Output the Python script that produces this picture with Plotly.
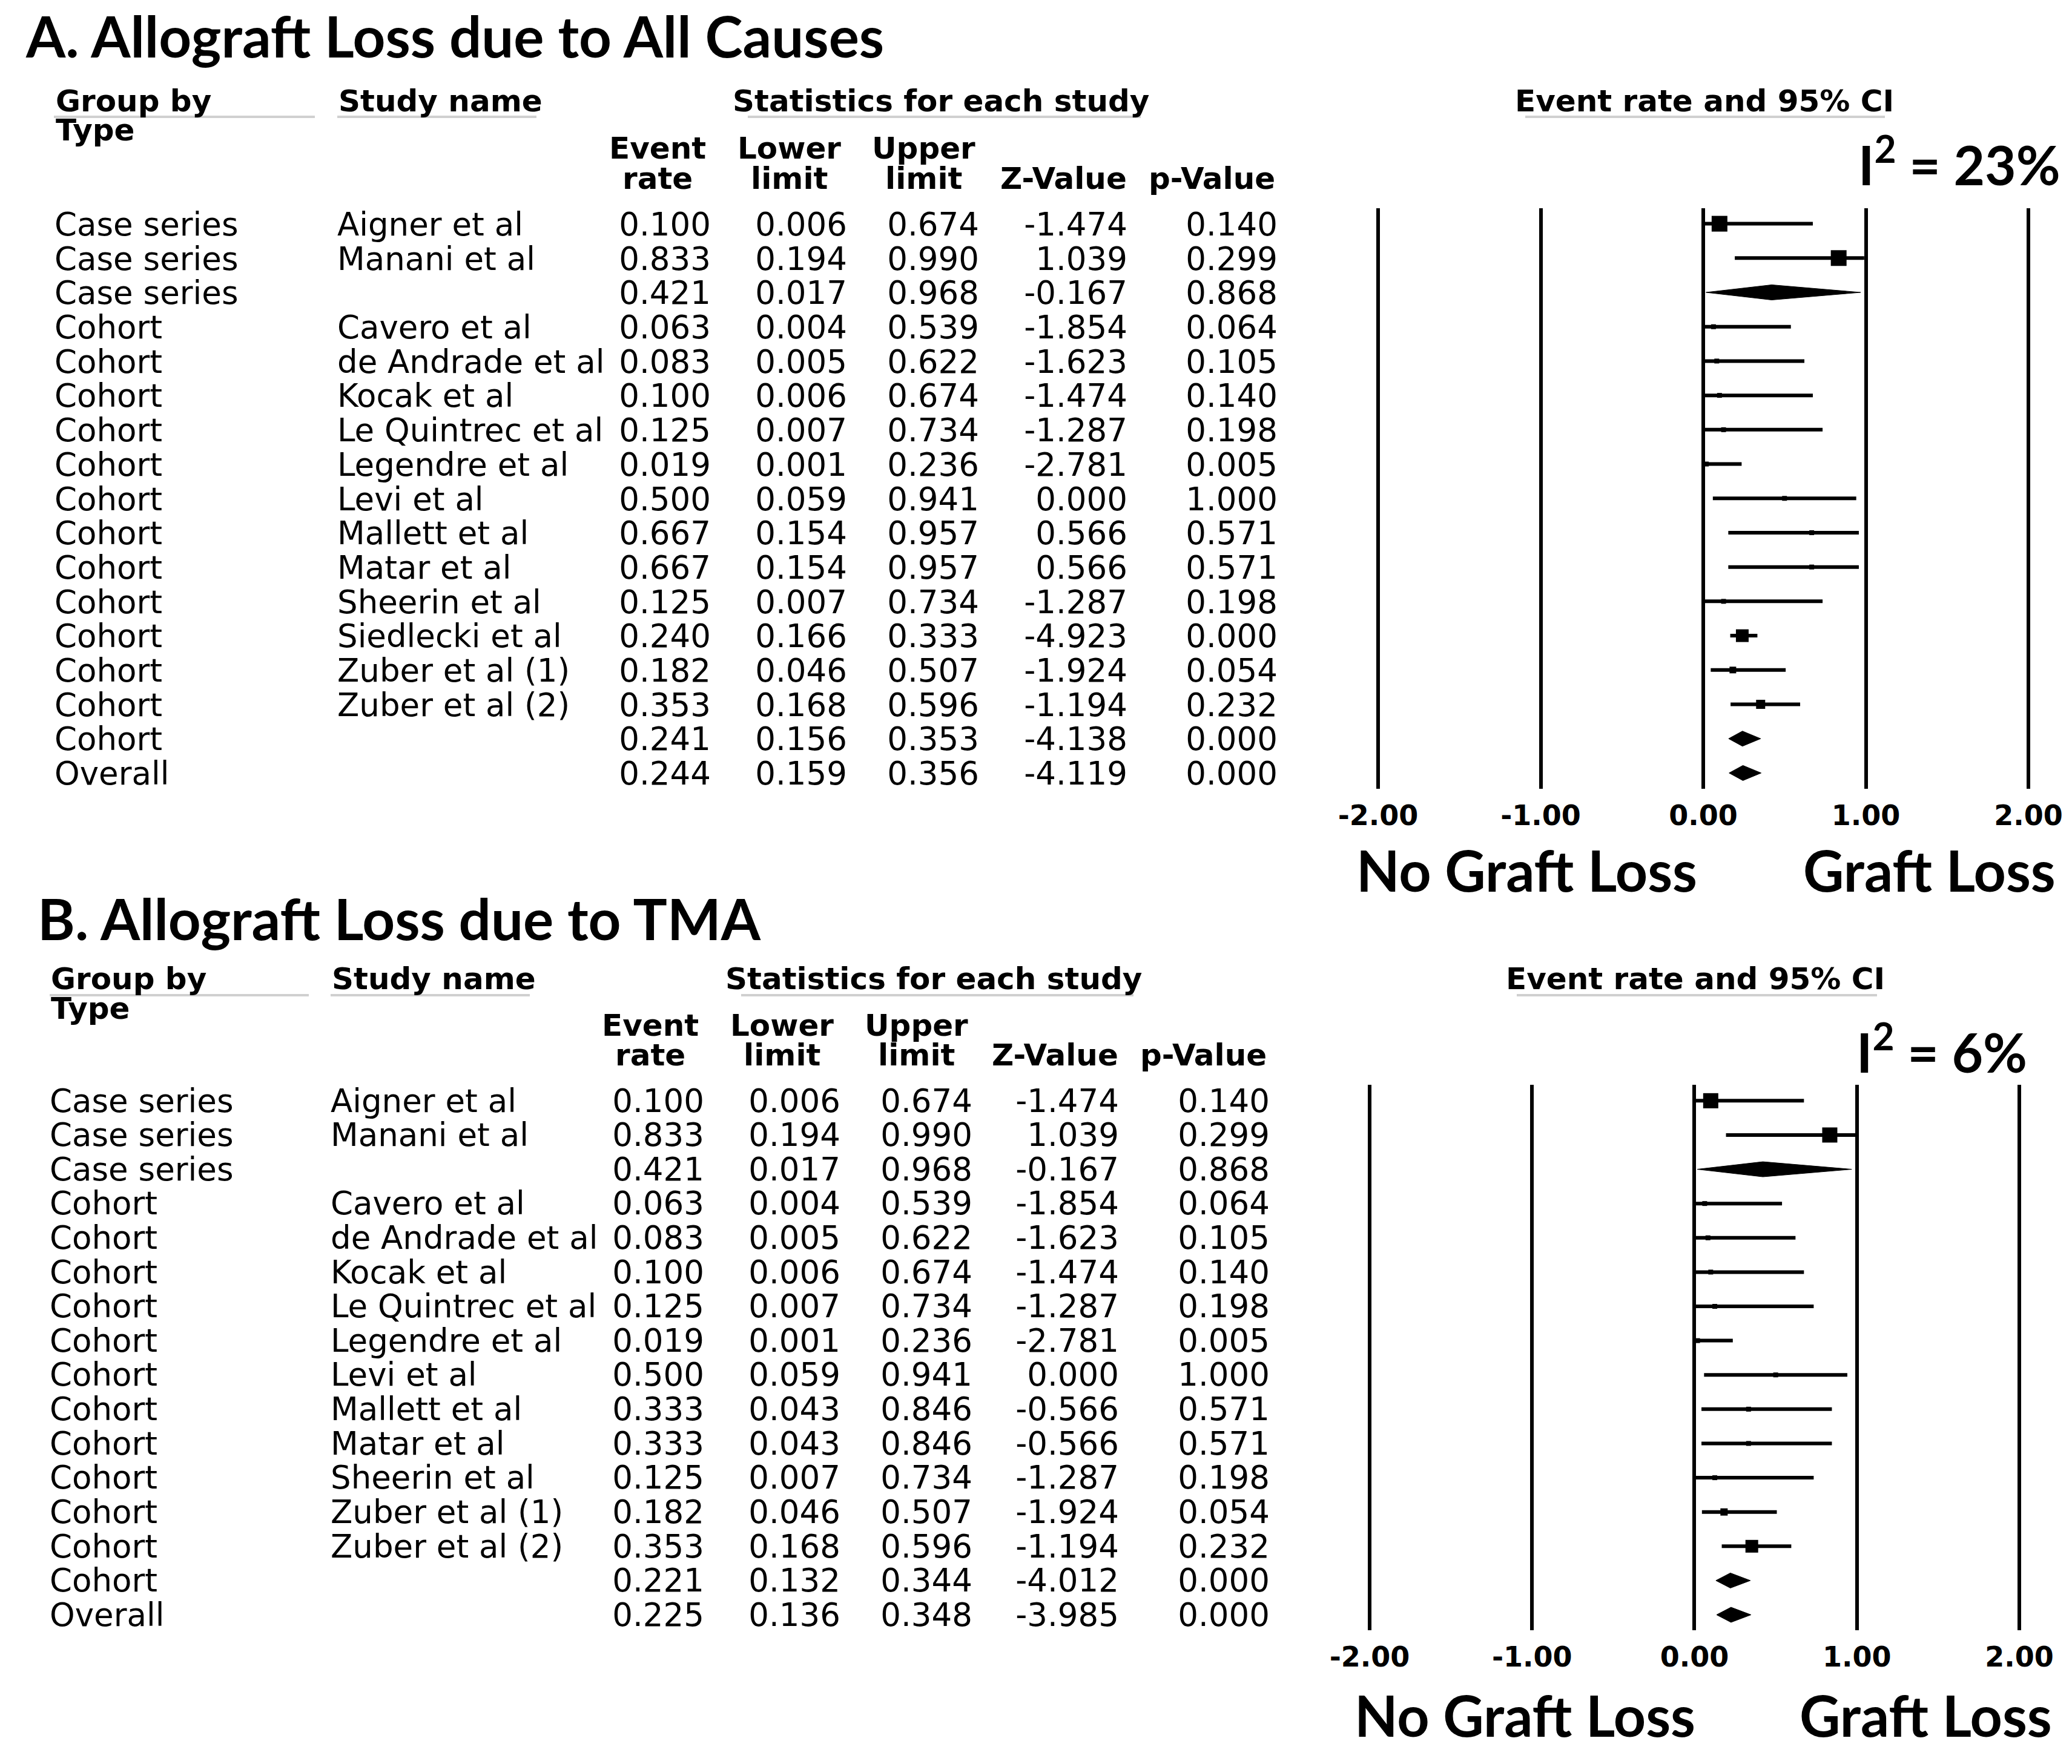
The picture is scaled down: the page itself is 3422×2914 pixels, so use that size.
import plotly.graph_objects as go

W, H = 3422, 2914

# ---------------- data : panel A (all causes) ----------------
groups_a = ["Case series"] * 3 + ["Cohort"] * 13 + ["Overall"]
studies_a = ["Aigner et al", "Manani et al", "", "Cavero et al", "de Andrade et al",
             "Kocak et al", "Le Quintrec et al", "Legendre et al", "Levi et al",
             "Mallett et al", "Matar et al", "Sheerin et al", "Siedlecki et al",
             "Zuber et al (1)", "Zuber et al (2)", "", ""]
rate_a = [0.100, 0.833, 0.421, 0.063, 0.083, 0.100, 0.125, 0.019, 0.500, 0.667,
          0.667, 0.125, 0.240, 0.182, 0.353, 0.241, 0.244]
lower_a = [0.006, 0.194, 0.017, 0.004, 0.005, 0.006, 0.007, 0.001, 0.059, 0.154,
           0.154, 0.007, 0.166, 0.046, 0.168, 0.156, 0.159]
upper_a = [0.674, 0.990, 0.968, 0.539, 0.622, 0.674, 0.734, 0.236, 0.941, 0.957,
           0.957, 0.734, 0.333, 0.507, 0.596, 0.353, 0.356]
z_a = [-1.474, 1.039, -0.167, -1.854, -1.623, -1.474, -1.287, -2.781, 0.000, 0.566,
       0.566, -1.287, -4.923, -1.924, -1.194, -4.138, -4.119]
p_a = [0.140, 0.299, 0.868, 0.064, 0.105, 0.140, 0.198, 0.005, 1.000, 0.571,
       0.571, 0.198, 0.000, 0.054, 0.232, 0.000, 0.000]
i2_a = "23%"

# ---------------- data : panel B (TMA) ----------------
groups_b = ["Case series"] * 3 + ["Cohort"] * 12 + ["Overall"]
studies_b = ["Aigner et al", "Manani et al", "", "Cavero et al", "de Andrade et al",
             "Kocak et al", "Le Quintrec et al", "Legendre et al", "Levi et al",
             "Mallett et al", "Matar et al", "Sheerin et al",
             "Zuber et al (1)", "Zuber et al (2)", "", ""]
rate_b = [0.100, 0.833, 0.421, 0.063, 0.083, 0.100, 0.125, 0.019, 0.500, 0.333,
          0.333, 0.125, 0.182, 0.353, 0.221, 0.225]
lower_b = [0.006, 0.194, 0.017, 0.004, 0.005, 0.006, 0.007, 0.001, 0.059, 0.043,
           0.043, 0.007, 0.046, 0.168, 0.132, 0.136]
upper_b = [0.674, 0.990, 0.968, 0.539, 0.622, 0.674, 0.734, 0.236, 0.941, 0.846,
           0.846, 0.734, 0.507, 0.596, 0.344, 0.348]
z_b = [-1.474, 1.039, -0.167, -1.854, -1.623, -1.474, -1.287, -2.781, 0.000, -0.566,
       -0.566, -1.287, -1.924, -1.194, -4.012, -3.985]
p_b = [0.140, 0.299, 0.868, 0.064, 0.105, 0.140, 0.198, 0.005, 1.000, 0.571,
       0.571, 0.198, 0.054, 0.232, 0.000, 0.000]
i2_b = "6%"

axis_ticks = [-2, -1, 0, 1, 2]

# ---------------- style ----------------
sizes_a = [26, 26, 0, 8, 8, 8, 8, 8, 8, 8, 8, 8, 21, 11, 15, 0, 0]
sizes_b = [25, 25, 0, 8, 8, 8, 8, 8, 8, 8, 8, 8, 12, 21, 0, 0]
DIAMOND_HALF = 0.22
DATA_FONT = dict(family="DejaVu Sans", size=53, color="black")
HEAD_FONT = dict(family="DejaVu Sans", size=50, color="black", weight="bold")
TICK_FONT = dict(family="DejaVu Sans", size=46, color="black", weight="bold")
BIG_FONT = dict(family="Lato", size=93, color="black", weight="bold")
I2_FONT = dict(family="Lato", size=89, color="black", weight="bold")
TITLE_FONT = dict(family="Lato", size=94, color="black", weight="bold")
LINE_W = 6
GRID_W = 6
UNDER_COLOR = "#d0d0d0"

fig = go.Figure()


def px(x):
    return x / W


def py(y):
    return 1 - y / H


def panel(k, groups, studies, rate, lower, upper, zval, pval, sizes, i2, L):
    xf, xt = ("x", "x2") if k == 0 else ("x3", "x4")
    yf, yt = ("y", "y3") if k == 0 else ("y2", "y4")
    n = len(rate)
    rows = list(range(1, n + 1))
    is_sum = [s == "" for s in studies]

    # ---- table columns as text traces ----
    named = [i for i in range(n) if studies[i]]
    cols = [
        (L["group_x"], rows, groups, "middle right"),
        (L["study_x"], [rows[i] for i in named], [studies[i] for i in named],
         "middle right"),
        (L["num_x"][0], rows, [f"{v:.3f}" for v in rate], "middle left"),
        (L["num_x"][1], rows, [f"{v:.3f}" for v in lower], "middle left"),
        (L["num_x"][2], rows, [f"{v:.3f}" for v in upper], "middle left"),
        (L["num_x"][3], rows, [f"{v:.3f}" for v in zval], "middle left"),
        (L["num_x"][4], rows, [f"{v:.3f}" for v in pval], "middle left"),
    ]
    for cx, ry, txt, pos in cols:
        fig.add_trace(go.Scatter(
            x=[cx] * len(ry), y=ry, text=txt, mode="text", textposition=pos,
            textfont=DATA_FONT, xaxis=xt, yaxis=yt, showlegend=False,
            hoverinfo="skip", cliponaxis=False))

    # ---- study CIs and squares ----
    si = [i for i in range(n) if not is_sum[i]]
    fig.add_trace(go.Scatter(
        x=[rate[i] for i in si], y=[rows[i] for i in si], mode="markers",
        marker=dict(symbol="square", size=[sizes[i] for i in si], color="black",
                    opacity=1, line=dict(width=0)),
        error_x=dict(type="data", symmetric=False,
                     array=[upper[i] - rate[i] for i in si],
                     arrayminus=[rate[i] - lower[i] for i in si],
                     thickness=LINE_W, width=0, color="black"),
        xaxis=xf, yaxis=yf, showlegend=False, hoverinfo="skip", cliponaxis=False))

    # ---- summary diamonds ----
    dx, dy = [], []
    for i in range(n):
        if is_sum[i]:
            r = rows[i]
            dx += [lower[i], rate[i], upper[i], rate[i], lower[i], None]
            dy += [r, r - DIAMOND_HALF, r, r + DIAMOND_HALF, r, None]
    fig.add_trace(go.Scatter(
        x=dx, y=dy, mode="lines", fill="toself", fillcolor="black",
        line=dict(color="black", width=1), xaxis=xf, yaxis=yf,
        showlegend=False, hoverinfo="skip"))

    # ---- axes ----
    unit = (L["x_p2"] - L["x_m2"]) / 4.0
    pad = 0.06
    fdom = [px(L["x_m2"] - pad * unit), px(L["x_p2"] + pad * unit)]
    ydom = [py(L["y_bot"]), py(L["y_top"])]
    tdom = [py(L["y_bot"] + L["text_dy"]), py(L["y_top"] + L["text_dy"])]
    yrange = [L["yr_bot"], L["yr_top"]]
    names = ("xaxis", "xaxis2", "yaxis", "yaxis3") if k == 0 else \
            ("xaxis3", "xaxis4", "yaxis2", "yaxis4")
    fig.update_layout(**{
        names[0]: dict(domain=fdom, range=[-2 - pad, 2 + pad], anchor=yf,
                       tickvals=axis_ticks,
                       ticktext=[f"{v:.2f}" for v in axis_ticks],
                       showgrid=True, gridcolor="black", gridwidth=GRID_W,
                       zeroline=False, showline=False, ticks="",
                       tickfont=TICK_FONT, ticklabelstandoff=L["tick_standoff"],
                       automargin=False, fixedrange=True),
        names[1]: dict(domain=[0, 1], range=[0, W], anchor=yt, visible=False,
                       automargin=False, fixedrange=True),
        names[2]: dict(domain=ydom, range=yrange, anchor=xf, visible=False,
                       automargin=False, fixedrange=True),
        names[3]: dict(domain=tdom, range=yrange, anchor=xt, visible=False,
                       automargin=False, fixedrange=True),
    })

    # ---- header texts ----
    def ann(text, x, y, xanchor, font):
        fig.add_annotation(text=text, x=px(x), y=py(y), xref="paper", yref="paper",
                           xanchor=xanchor, yanchor="middle", showarrow=False,
                           font=font)

    ann(L["title"], L["title_x"], L["title_y"], "left", TITLE_FONT)
    h1, h2, h3, h4 = L["hy"]
    ann("Group by", L["group_x"], h1, "left", HEAD_FONT)
    ann("Type", L["group_x"], h2, "left", HEAD_FONT)
    ann("Study name", L["study_x"], h1, "left", HEAD_FONT)
    ann("Statistics for each study", L["stats_cx"], h1, "center", HEAD_FONT)
    ann("Event rate and 95% CI", L["ci_cx"], h1, "center", HEAD_FONT)
    for (t1, t2), cx in zip([("Event", "rate"), ("Lower", "limit"), ("Upper", "limit"),
                             (None, "Z-Value"), (None, "p-Value")], L["head_cx"]):
        if t1:
            ann(t1, cx, h3, "center", HEAD_FONT)
        ann(t2, cx, h4, "center", HEAD_FONT)
    for x0, x1 in L["under"]:
        fig.add_shape(type="line", xref="paper", yref="paper", x0=px(x0), x1=px(x1),
                      y0=py(L["under_y"]), y1=py(L["under_y"]),
                      line=dict(color=UNDER_COLOR, width=4))
    ann(f"I<sup>2</sup> = {i2}", L["i2_x"], L["i2_y"], "right", I2_FONT)
    ann("No Graft Loss", L["no_cx"], L["lab_y"], "center", BIG_FONT)
    ann("Graft Loss", L["gl_cx"], L["lab_y"], "center", BIG_FONT)


LA = dict(title="A. Allograft Loss due to All Causes", title_x=40, title_y=59,
          group_x=90, study_x=557, num_x=[1174, 1399, 1617, 1862, 2110],
          stats_cx=1554, ci_cx=2815, head_cx=[1086, 1303, 1525, 1756, 2001],
          hy=[167, 215, 245, 295], under_y=193,
          under=[(89, 520), (557, 886), (1235, 1884), (2519, 3113)],
          x_m2=2276, x_p2=3350, y_top=343.5, y_bot=1303, yr_top=0.54, yr_bot=17.46,
          text_dy=6, tick_standoff=13, i2_x=3405, i2_y=266, no_cx=2521, gl_cx=3186,
          lab_y=1437)
LB = dict(title="B. Allograft Loss due to TMA", title_x=60, title_y=1516,
          group_x=82, study_x=546, num_x=[1163, 1388, 1606, 1848, 2097],
          stats_cx=1542, ci_cx=2800, head_cx=[1074, 1291, 1513, 1742, 1988],
          hy=[1617, 1666, 1694, 1743], under_y=1644,
          under=[(82, 510), (546, 875), (1224, 1872), (2505, 3100)],
          x_m2=2262, x_p2=3335, y_top=1792, y_bot=2693, yr_top=0.535, yr_bot=16.45,
          text_dy=5, tick_standoff=13, i2_x=3350, i2_y=1732, no_cx=2518, gl_cx=3180,
          lab_y=2833)

panel(0, groups_a, studies_a, rate_a, lower_a, upper_a, z_a, p_a, sizes_a, i2_a, LA)
panel(1, groups_b, studies_b, rate_b, lower_b, upper_b, z_b, p_b, sizes_b, i2_b, LB)

fig.update_layout(width=W, height=H,
                  margin=dict(l=0, r=0, t=0, b=0, pad=0, autoexpand=False),
                  paper_bgcolor="white", plot_bgcolor="rgba(0,0,0,0)",
                  showlegend=False)

fig.write_html("out.html", config={"displayModeBar": False},
               post_script="document.body.style.margin='0';"
                           "document.body.style.padding='0';")
